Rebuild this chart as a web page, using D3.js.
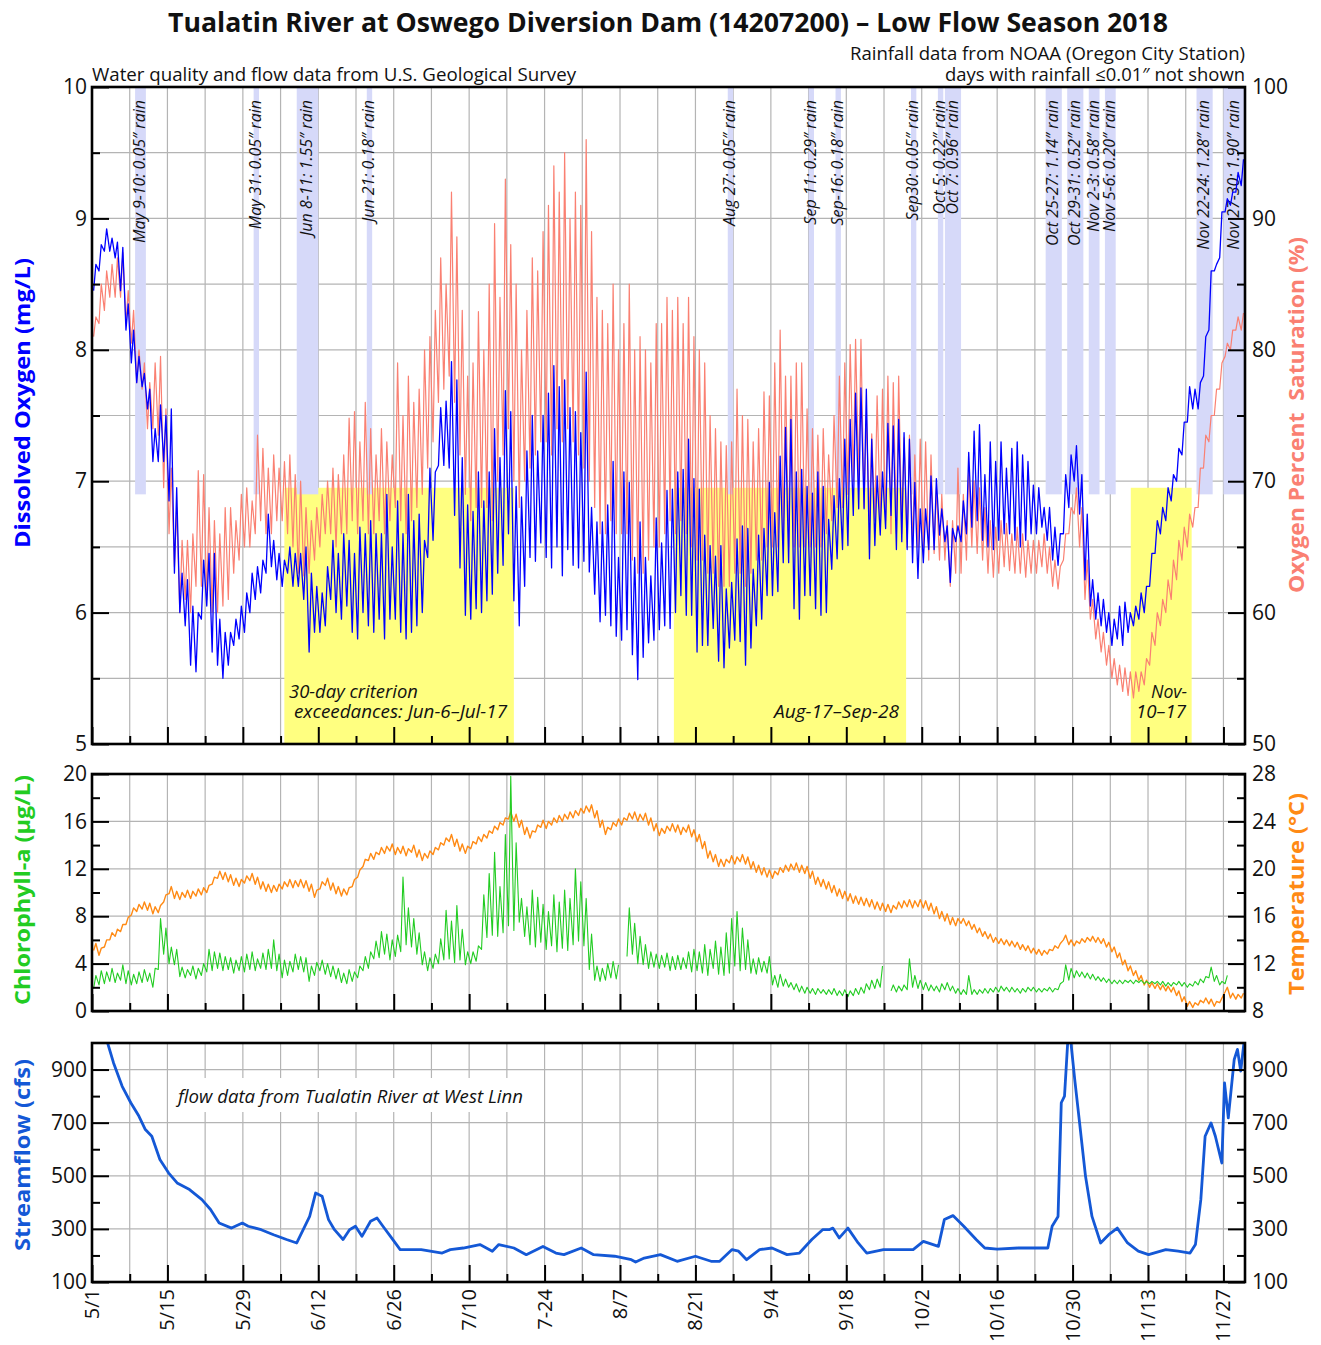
<!DOCTYPE html>
<html>
<head>
<meta charset="utf-8">
<script src="https://cdn.jsdelivr.net/npm/d3@7"></script>
<style>
  body { margin: 0; background: #fff; }
  svg text { font-family: 'Open Sans', 'Noto Sans', sans-serif; }
</style>
</head>
<body>
<svg width="1321" height="1345"></svg>
<script>
// day 0 = May 1 2018, one value per day (daily low / daily high)
const doLow = [
  8.45, 8.6, 8.75, 8.75, 8.7, 8.45, 8.15,
  7.9, 7.75, 7.72, 7.55, 7.15, 7.15, 7.15,
  6.85, 6.3, 6.0, 5.9, 5.6, 5.55, 5.95,
  6.05, 5.7, 5.6, 5.5, 5.6, 5.75, 5.8,
  5.85, 6.0, 6.1, 6.15, 6.3, 6.35, 6.25,
  6.2, 6.3, 6.2, 6.2, 6.1, 5.7, 5.85,
  5.85, 5.9, 6.1, 6.0, 5.95, 6.05, 5.85,
  5.8, 6.0, 5.9, 5.85, 5.95, 5.8, 5.95,
  5.95, 5.85, 5.8, 5.85, 5.9, 6.0, 6.42,
  6.55, 7.12, 7.12, 7.1, 6.74, 6.34, 5.98,
  5.95, 6.03, 6.0, 6.09, 6.14, 6.3, 6.36,
  6.6, 6.09, 5.9, 6.2, 6.42, 6.39, 6.53,
  6.42, 6.34, 6.5, 6.28, 6.48, 6.36, 6.34,
  6.39, 6.31, 6.14, 5.93, 5.98, 5.9, 5.82,
  5.79, 5.87, 5.68, 5.49, 5.66, 5.77, 5.79,
  5.87, 5.9, 5.88, 6.0, 6.13, 5.98, 5.98,
  5.7, 5.75, 5.75, 5.88, 5.63, 5.58, 5.73,
  5.79, 5.78, 5.6, 5.73, 5.9, 5.95, 6.13,
  6.13, 6.16, 6.38, 6.38, 6.03, 5.95, 6.13,
  6.13, 6.03, 5.98, 6.0, 6.33, 6.41, 6.48,
  6.51, 6.74, 6.79, 6.79, 6.41, 6.51, 6.59,
  6.64, 6.74, 6.48, 6.54, 6.48, 6.38, 6.26,
  6.38, 6.48, 6.48, 6.59, 6.54, 6.23, 6.54,
  6.54, 6.6, 6.65, 6.7, 6.55, 6.5, 6.48,
  6.55, 6.6, 6.6, 6.55, 6.5, 6.55, 6.6,
  6.6, 6.65, 6.55, 6.4, 6.36, 6.6, 6.8,
  7.0, 6.75, 6.25, 6.05, 5.95, 5.9, 5.85,
  5.75, 5.8, 5.75, 5.85, 5.9, 5.95, 6.0,
  6.2, 6.45, 6.6, 6.7, 6.85, 7.0, 7.2,
  7.45, 7.55, 7.55, 7.8, 8.15, 8.6, 8.7,
  9.05, 9.1, 9.2, 9.25
];
const doHigh = [
  8.65, 8.8, 8.92, 8.85, 8.82, 8.78, 8.35,
  8.15, 7.95, 7.82, 7.7, 7.4, 7.58, 7.5,
  7.55, 6.95, 6.3, 6.25, 6.05, 6.0, 6.4,
  6.45, 6.45, 5.95, 5.85, 5.85, 5.95, 6.05,
  6.15, 6.3, 6.35, 6.4, 6.75, 6.55, 6.45,
  6.4, 6.5, 6.45, 6.45, 6.5, 6.3, 6.2,
  6.15, 6.35, 6.55, 6.45, 6.6, 6.55, 6.45,
  6.65, 6.6, 6.7, 6.6, 6.6, 6.9, 6.5,
  6.85, 6.6, 6.9, 6.7, 6.75, 6.55, 7.1,
  7.07, 7.56, 7.61, 7.91, 7.77, 7.18, 6.82,
  6.77, 7.07, 6.85, 7.07, 7.4, 7.18, 7.69,
  7.53, 6.96, 6.88, 7.23, 7.5, 7.23, 7.5,
  7.67, 7.88, 7.72, 7.77, 7.56, 7.53, 7.37,
  7.83, 6.8, 6.69, 6.69, 6.82, 7.15, 6.42,
  7.07, 6.99, 6.42, 6.69, 6.42, 6.28, 6.72,
  6.53, 6.93, 6.94, 7.07, 7.09, 7.32, 7.02,
  6.94, 6.59, 6.51, 6.43, 6.51, 6.18, 6.23,
  6.56, 6.66, 6.64, 6.33, 6.59, 6.64, 6.99,
  6.76, 7.19, 7.41, 7.47, 7.07, 7.09, 6.96,
  6.91, 7.07, 6.96, 6.71, 6.89, 7.02, 7.32,
  7.47, 7.67, 7.71, 7.7, 7.32, 7.04, 7.07,
  7.44, 7.42, 7.47, 7.37, 7.32, 6.99, 6.79,
  6.79, 7.04, 7.02, 6.79, 6.66, 6.64, 6.66,
  6.85, 7.22, 7.38, 7.43, 7.05, 7.3, 7.15,
  7.3, 7.1, 7.25, 7.3, 7.2, 7.15, 6.97,
  6.95, 6.8, 6.8, 6.65, 6.6, 7.05, 7.2,
  7.27, 7.05, 6.75, 6.25, 6.15, 6.1, 6.0,
  5.95, 6.05, 6.08, 6.0, 6.05, 6.15, 6.2,
  6.45, 6.7, 6.8, 6.95, 7.05, 7.25, 7.45,
  7.72, 7.7, 7.75, 8.1, 8.6, 8.65, 9.05,
  9.15, 9.2, 9.35, 9.45
];
const satLow = [
  81, 82, 83, 84, 84, 84, 82,
  80.5, 77.5, 77, 74, 74, 73.5, 69.5,
  66, 63.5, 60, 61, 60, 62, 62,
  61, 60, 60, 60.5, 61, 63, 64,
  65, 65, 66, 67, 66, 66, 67,
  67, 66, 65, 63, 62.8, 63, 64,
  65, 66, 66, 65, 66, 66, 67,
  66, 67, 66, 66, 67, 66, 67,
  68, 67, 66, 67, 68, 69, 71,
  73, 76, 77, 78, 76, 72, 69,
  67, 68, 68, 68, 67, 70, 72,
  74, 70, 68, 70, 71, 72, 73,
  73, 72, 74, 73, 74, 73, 72,
  71, 70, 68, 66, 66, 67, 66,
  66, 66, 64, 63, 63, 64, 65,
  65, 66, 67, 66, 67, 66, 65,
  64, 64, 63, 63, 62, 62, 62,
  63, 63, 62, 63, 64, 64, 65,
  65, 65, 66, 65, 65, 65, 65,
  65, 65, 65, 66, 67, 68, 68,
  69, 70, 70, 68, 67, 67, 67,
  67, 66, 66, 66, 65, 65, 65,
  65, 64, 64.5, 64, 64, 62, 63,
  63, 64, 65, 64.5, 64, 63, 62.7,
  63, 63.5, 63.2, 63, 63, 62.7, 63,
  63, 63.5, 63, 62, 61.8, 64, 66,
  67.5, 65, 61, 59.5, 58, 57, 56,
  55, 54.5, 54, 53.7, 53.5, 54, 54.5,
  56, 57.5, 59, 60, 61, 62.5, 64,
  65, 66.5, 68, 71, 73, 75, 77,
  79.5, 80, 81.5, 81.5
];
const satHigh = [
  82.5, 85, 86, 86.5, 87, 87.4, 84.5,
  83, 80, 79, 77.5, 79, 79.5, 75.5,
  71, 68, 65.5, 65.5, 66, 70.8, 70.5,
  68, 67, 66, 68, 68, 67, 69,
  69.5, 68.5, 73.5, 72.5, 71, 72, 71,
  71.5, 72, 70.5, 70, 68, 67, 68,
  69, 70, 71, 70.5, 72, 74.8, 75.3,
  73, 76, 74, 72, 74, 73, 72,
  79, 75, 78, 76, 77, 80, 81,
  83, 87, 85, 92, 88.6, 83, 78,
  79, 82.9, 80, 85, 89.6, 84, 93,
  88, 85, 80, 83, 87, 86, 89,
  91, 94, 92, 95, 90, 92, 91,
  96, 89, 84, 83, 82, 85, 80,
  82, 85, 80, 81, 80, 79, 82,
  82, 84, 83, 84, 82, 84, 81,
  80, 79, 75, 74, 73, 72.7, 73,
  77, 75, 74.7, 73, 74, 76.8, 76.5,
  79, 81.5, 78, 78, 79, 79, 75.5,
  74, 73.5, 74, 72, 75, 78, 79,
  80.4, 80.8, 80.8, 75, 73.6, 76.5, 77,
  78, 77.5, 78, 73.3, 73.5, 72, 73.2,
  73, 72, 69.5, 69, 67, 67, 71,
  69, 71, 70, 69.5, 68, 67, 66.5,
  67, 66.8, 66, 66.5, 66, 65.5, 65.5,
  65.5, 66, 65, 64, 63.5, 66, 68,
  69.5, 68, 64, 61, 59.5, 58.5, 57.5,
  56.5, 56, 55.8, 55.5, 55.5, 55.5, 56.5,
  58.5, 60, 61, 62.5, 64, 65.5, 66.5,
  67.5, 68, 71, 73.5, 75, 77, 79,
  80.5, 81.5, 82.5, 82.8
];
const chlLow = [
  1.9, 2.2, 2.3, 2.5, 2.4, 2.6, 2.3,
  2.2, 2.3, 2.4, 2.5, 2.0, 3.5, 4.8,
  4.0, 3.9, 2.9, 2.8, 3.0, 2.7, 3.0,
  3.3, 3.4, 3.6, 3.4, 3.5, 3.2, 3.4,
  3.3, 3.5, 3.4, 3.6, 3.5, 3.6, 3.4,
  2.8, 3.0, 3.3, 3.5, 3.3, 2.5, 3.0,
  3.4, 3.1, 2.9, 2.7, 2.4, 2.3, 2.5,
  2.8, 3.4, 3.6, 4.4, 4.5, 4.8, 4.3,
  4.6, 5.0, 5.6, 5.4, 4.8, 3.9, 3.4,
  3.6, 4.0, 4.3, 4.4, 4.1, 4.3, 3.9,
  4.0, 4.2, 5.2, 6.2, 6.4, 6.3, 6.6,
  7.2, 6.8, 7.5, 6.3, 5.6, 5.4, 5.8,
  5.2, 5.5, 5.0, 5.3, 5.1, 5.6, 5.9,
  5.5, 3.5, 2.6, 2.5, 2.6, 2.8, 2.7,
  null, 4.6, 4.8, 4.0, 3.9, 3.6, 3.7,
  3.6, 3.7, 3.4, 3.5, 3.5, 3.6, 3.3,
  3.4, 3.2, 3.0, 3.6, 3.1, 3.0, 3.2,
  3.8, 3.4, 3.5, 3.2, 3.1, 3.3, 3.2,
  2.2, 2.0, 2.1, 2.0, 1.8, 1.6, 1.5,
  1.5, 1.4, 1.5, 1.4, 1.4, 1.3, 1.3,
  1.2, 1.3, 1.4, 1.5, 1.8, 1.9, 2.0,
  null, 1.7, 1.6, 1.7, 1.8, 2.0, 1.9,
  1.8, 1.7, 1.7, 1.6, 1.8, 1.7, 1.5,
  1.4, 1.4, 1.4, 1.4, 1.5, 1.5, 1.6,
  1.6, 1.7, 1.6, 1.6, 1.5, 1.6, 1.7,
  1.6, 1.6, 1.7, 1.6, 1.8, 2.5, 2.6,
  2.8, 2.9, 2.8, 2.7, 2.6, 2.5, 2.4,
  2.3, 2.3, 2.3, 2.4, 2.3, 2.4, 2.3,
  2.3, 2.3, 2.2, 2.1, 2.1, 2.2, 2.1,
  2.0, 2.1, 2.2, 2.4, 2.8, 2.5, 2.2,
  2.3, null, null, null
];
const chlHigh = [
  3.0, 3.4, 3.3, 3.6, 3.2, 3.9, 3.4,
  3.1, 3.3, 3.5, 3.2, 3.6, 7.8, 7.0,
  5.4, 5.2, 3.7, 3.5, 3.8, 3.6, 4.0,
  5.2, 5.0, 4.9, 4.6, 4.5, 4.3, 4.6,
  4.8, 5.0, 4.4, 4.9, 5.2, 6.0, 4.8,
  4.3, 4.2, 4.8, 4.6, 4.5, 3.8, 4.1,
  4.3, 4.0, 3.8, 3.6, 3.2, 3.5, 3.3,
  3.8, 4.6, 5.0, 5.9, 6.7, 6.5, 6.0,
  6.4, 11.3, 8.7, 7.8, 6.6, 5.0, 4.5,
  4.8, 6.1, 8.5, 7.6, 8.9, 6.9, 5.0,
  5.0, 5.5, 9.8, 11.6, 13.4, 10.5, 14.9,
  19.8, 14.2, 9.5, 8.8, 10.2, 9.6, 9.0,
  8.4, 9.8, 9.2, 10.2, 9.5, 12.0, 10.9,
  9.5, 6.5, 3.8, 3.6, 4.0, 4.2, 3.9,
  null, 8.7, 7.4, 6.3, 5.6, 5.0, 4.8,
  4.7, 4.9, 4.6, 4.7, 4.5, 5.0, 5.2,
  5.0, 5.6, 5.2, 5.9, 5.4, 6.6, 7.8,
  8.4, 7.0, 6.0, 4.4, 4.5, 4.2, 4.6,
  3.0, 3.1, 2.7, 2.4, 2.3, 2.1, 2.0,
  1.9, 1.9, 1.8, 1.8, 1.9, 1.7, 1.8,
  1.7, 1.9, 2.0, 2.3, 2.6, 2.7, 3.8,
  null, 2.2, 2.1, 2.2, 4.4, 3.0, 2.6,
  2.4, 2.2, 2.1, 2.3, 2.4, 2.1, 1.9,
  1.8, 3.0, 1.8, 1.8, 1.9, 1.9, 2.0,
  2.1, 2.0, 2.0, 1.9, 1.9, 2.0, 2.0,
  1.9, 1.9, 2.0, 1.9, 2.3, 3.9, 3.6,
  3.4, 3.3, 3.2, 3.1, 2.9, 2.8, 2.7,
  2.6, 2.6, 2.6, 2.6, 2.6, 2.6, 2.5,
  2.5, 2.5, 2.5, 2.4, 2.4, 2.5, 2.4,
  2.3, 2.5, 2.7, 2.9, 3.7, 3.0, 2.5,
  3.0, null, null, null
];
const tempLow = [
  13.1, 12.7, 13.4, 14.0, 14.3, 14.7, 15.3,
  16.1, 16.4, 16.6, 16.5, 16.2, 16.3, 17.2,
  17.9, 17.5, 17.4, 17.6, 17.5, 17.7, 17.8,
  18.0, 18.7, 19.2, 19.1, 18.9, 18.6, 18.5,
  18.8, 19.0, 18.7, 18.3, 18.1, 18.0, 18.1,
  18.3, 18.5, 18.4, 18.5, 18.4, 18.1, 17.6,
  18.3, 18.6, 18.2, 17.9, 17.7, 17.8, 18.5,
  19.3, 20.2, 20.7, 20.8, 21.2, 21.3, 21.5,
  21.2, 21.3, 21.1, 21.4, 21.0, 20.7, 20.9,
  21.2, 21.6, 22.0, 22.3, 21.9, 21.5, 21.3,
  21.7, 22.1, 22.3, 22.6, 23.0, 23.3, 23.7,
  24.2, 24.0, 23.5, 22.9, 22.6, 23.1, 23.5,
  23.4, 23.7, 23.9, 24.0, 24.2, 24.3, 24.5,
  24.7, 24.8, 24.3, 23.5, 22.9, 23.3, 23.6,
  23.7, 24.1, 24.2, 24.0, 24.1, 23.7, 23.2,
  22.8, 23.0, 23.2, 23.1, 22.9, 23.1, 22.7,
  22.3, 21.7, 20.9, 20.6, 20.2, 20.2, 20.5,
  20.4, 20.6, 20.4, 20.0, 19.7, 19.5, 19.3,
  19.2, 19.5, 19.7, 19.8, 19.9, 19.7, 19.6,
  19.2, 18.7, 18.5, 18.3, 18.0, 17.7, 17.5,
  17.3, 17.1, 17.0, 16.9, 16.8, 16.6, 16.5,
  16.4, 16.3, 16.6, 16.7, 16.8, 16.7, 16.8,
  16.7, 16.5, 16.2, 15.8, 15.6, 15.3, 15.2,
  15.4, 15.2, 14.9, 14.6, 14.3, 14.1, 13.8,
  13.7, 13.6, 13.5, 13.4, 13.2, 13.1, 12.9,
  12.8, 12.7, 12.8, 13.1, 13.3, 14.0, 13.6,
  13.5, 13.7, 13.8, 13.9, 13.8, 13.7, 13.4,
  13.0, 12.5, 11.9, 11.4, 11.0, 10.6, 10.2,
  10.0, 9.9, 9.8, 9.7, 9.6, 9.3, 8.8,
  8.4, 8.3, 8.5, 8.7, 8.6, 8.4, 8.7,
  9.6, 9.1, 9.0, 9.1
];
const tempHigh = [
  13.7, 13.3, 14.0, 14.6, 14.9, 15.3, 15.9,
  16.7, 17.0, 17.2, 17.1, 16.8, 16.9, 17.8,
  18.5, 18.1, 18.0, 18.2, 18.1, 18.3, 18.4,
  18.6, 19.3, 19.8, 19.7, 19.5, 19.2, 19.1,
  19.4, 19.6, 19.3, 18.9, 18.7, 18.6, 18.7,
  18.9, 19.1, 19.0, 19.1, 19.0, 18.7, 18.2,
  18.9, 19.2, 18.8, 18.5, 18.3, 18.4, 19.1,
  19.9, 20.8, 21.3, 21.4, 21.8, 21.9, 22.1,
  21.8, 21.9, 21.7, 22.0, 21.6, 21.3, 21.5,
  21.8, 22.2, 22.6, 22.9, 22.5, 22.1, 21.9,
  22.3, 22.7, 22.9, 23.2, 23.6, 23.9, 24.3,
  24.8, 24.6, 24.1, 23.5, 23.2, 23.7, 24.1,
  24.0, 24.3, 24.5, 24.6, 24.8, 24.9, 25.1,
  25.3, 25.4, 24.9, 24.1, 23.5, 23.9, 24.2,
  24.3, 24.7, 24.8, 24.6, 24.7, 24.3, 23.8,
  23.4, 23.6, 23.8, 23.7, 23.5, 23.7, 23.3,
  22.9, 22.3, 21.5, 21.2, 20.8, 20.8, 21.1,
  21.0, 21.2, 21.0, 20.6, 20.3, 20.1, 19.9,
  19.8, 20.1, 20.3, 20.4, 20.5, 20.3, 20.2,
  19.8, 19.3, 19.1, 18.9, 18.6, 18.3, 18.1,
  17.9, 17.7, 17.6, 17.5, 17.4, 17.2, 17.1,
  17.0, 16.9, 17.2, 17.3, 17.4, 17.3, 17.4,
  17.3, 17.1, 16.8, 16.4, 16.2, 15.9, 15.8,
  15.8, 15.6, 15.3, 15.0, 14.7, 14.5, 14.2,
  14.1, 14.0, 13.9, 13.8, 13.6, 13.5, 13.3,
  13.2, 13.1, 13.2, 13.5, 13.7, 14.4, 14.0,
  13.9, 14.1, 14.2, 14.3, 14.2, 14.1, 13.8,
  13.4, 12.9, 12.3, 11.8, 11.4, 11.0, 10.6,
  10.4, 10.3, 10.2, 10.1, 10.0, 9.7, 9.2,
  8.8, 8.7, 8.9, 9.1, 9.0, 8.8, 9.1,
  10.0, 9.5, 9.4, 9.5
];
// streamflow readings (day offset, cfs)
const flowDay = [0, 1, 2, 2.9, 4, 5.6, 7.2, 8.7, 9.9, 11.1,
  12.6, 14.2, 15.8, 18.1, 20.4, 22, 23.6, 25.9, 27.9, 29,
  31.4, 33.7, 36.1, 38, 39.2, 40.4, 41.5, 42.7, 43.9, 45,
  46.6, 47.8, 48.9, 50.1, 51.7, 52.9, 54, 55.6, 57.2, 61.1,
  65, 66.5, 68.9, 72, 74.3, 75.5, 78.3, 80.6, 83.7, 86.1,
  87.6, 90.8, 93.1, 97, 100.1, 100.9, 102.5, 105.5, 108.6, 112,
  114.9, 116.5, 118.8, 120, 121.5, 123.9, 126.2, 129, 131.3, 133.6,
  135.6, 136.8, 137.5, 138.7, 140.3, 142.2, 143.8, 146.9, 150, 152.4,
  154.3, 157.1, 158.2, 159.8, 161.8, 164.1, 165.7, 168, 171.9, 175.8,
  177.4, 178.2, 179.3, 179.9, 180.5, 181.1, 181.7, 182.4, 183.3, 184.4,
  185.6, 187.2, 188.7, 190.3, 192.2, 194.2, 196.1, 199.3, 201.6, 203.8,
  204.8, 205.8, 206.6, 207.7, 208.5, 209.7, 210.2, 210.9, 212, 212.6,
  213.2, 213.8, 214];
const flowCfs = [1150, 1090, 1030, 1000, 925, 837, 775, 725, 674, 649,
  561, 511, 473, 448, 410, 373, 322, 303, 322, 310,
  297, 278, 260, 247, 297, 347, 435, 423, 335, 297,
  260, 297, 310, 272, 329, 341, 310, 266, 222, 222,
  209, 222, 228, 241, 216, 241, 228, 203, 234, 209,
  203, 228, 203, 197, 184, 175, 190, 203, 178, 197,
  178, 178, 222, 216, 184, 222, 228, 203, 209, 260,
  297, 297, 303, 266, 303, 247, 209, 222, 222, 222,
  253, 234, 335, 350, 310, 260, 228, 224, 228, 228,
  228, 310, 347, 775, 800, 1005, 1000, 862, 699, 498,
  347, 247, 278, 303, 247, 216, 203, 222, 216, 209,
  241, 410, 649, 699, 649, 548, 850, 718, 938, 976,
  894, 1000, 1010];

// rain days (day offsets) and labels
const rainStart = [8, 30, 38, 51, 118, 133, 138, 152, 157, 158.3, 177, 181, 185, 188, 205, 210];
const rainEnd   = [10, 31, 42, 52, 119, 134, 139, 153, 158, 161.3, 180, 184, 187, 190, 208, 214];
const rainText = ['May 9-10: 0.05\u2033 rain', 'May 31: 0.05\u2033 rain', 'Jun 8-11: 1.55\u2033 rain',
  'Jun 21: 0.18\u2033 rain', 'Aug 27: 0.05\u2033 rain', 'Sep 11: 0.29\u2033 rain', 'Sep-16: 0.18\u2033 rain',
  'Sep30: 0.05\u2033 rain', 'Oct 5: 0.22\u2033 rain', 'Oct 7: 0.96\u2033 rain', 'Oct 25-27: 1.14\u2033 rain',
  'Oct 29-31: 0.52\u2033 rain', 'Nov 2-3: 0.58\u2033 rain', 'Nov 5-6: 0.20\u2033 rain',
  'Nov 22-24: 1.28\u2033 rain', 'Nov 27-30: 1.90\u2033 rain'];
// 30-day criterion exceedance periods
const exceedStart = [35.7, 108, 192.8];
const exceedEnd = [78.3, 151.1, 204.1];
const dateLabels = ['5/1', '5/15', '5/29', '6/12', '6/26', '7/10', '7-24', '8/7',
  '8/21', '9/4', '9/18', '10/2', '10/16', '10/30', '11/13', '11/27'];

const svg = d3.select('svg');

const x = d3.scaleLinear().domain([0, 214]).range([92, 1245]);
const yDO = d3.scaleLinear().domain([5, 10]).range([744, 87]);
const ySat = d3.scaleLinear().domain([50, 100]).range([744, 87]);
const yChl = d3.scaleLinear().domain([0, 20]).range([1011, 774]);
const yTemp = d3.scaleLinear().domain([8, 28]).range([1011, 774]);
const yFlow = d3.scaleLinear().domain([100, 1000]).range([1282, 1043]);

const weeks = d3.range(0, 214, 7);
const majorDays = weeks.filter(d => d % 14 === 0);
const minorDays = weeks.filter(d => d % 14 !== 0);
const gridCol = '#b4b4b4';

// clip paths
const defs = svg.append('defs');
[['clipTop', 87, 744], ['clipMid', 774, 1011], ['clipBot', 1043, 1282]].forEach(c => {
  defs.append('clipPath').attr('id', c[0]).append('rect')
    .attr('x', 92).attr('y', c[1]).attr('width', 1245 - 92).attr('height', c[2] - c[1]);
});

function grid(top, bottom, yScale, vals) {
  const g = svg.append('g');
  g.selectAll('line.v').data(weeks.filter(d => d > 0)).enter().append('line').attr('class', 'v')
    .attr('x1', d => x(d)).attr('x2', d => x(d)).attr('y1', top).attr('y2', bottom)
    .attr('stroke', gridCol).attr('stroke-width', 1.2);
  g.selectAll('line.h').data(vals).enter().append('line').attr('class', 'h')
    .attr('x1', 92).attr('x2', 1245).attr('y1', d => yScale(d)).attr('y2', d => yScale(d))
    .attr('stroke', gridCol).attr('stroke-width', 1.2);
}

function zigzag(low, high) {
  const pts = [];
  low.forEach((v, i) => {
    pts.push([i + 0.3, v]);
    pts.push([i + 0.72, high[i]]);
  });
  return pts;
}

function drawLine(pts, yScale, color, width, clip) {
  const line = d3.line().defined(d => d[1] != null).x(d => x(d[0])).y(d => yScale(d[1]));
  svg.append('path').datum(pts).attr('clip-path', `url(#${clip})`)
    .attr('fill', 'none').attr('stroke', color).attr('stroke-width', width)
    .attr('stroke-linejoin', 'round').attr('d', line);
}

function styleAxis(g) {
  g.attr('font-size', 21).attr('font-family', null);
  g.select('.domain').remove();
  g.selectAll('.tick line').attr('stroke', '#000').attr('stroke-width', 2);
  g.selectAll('.tick text').attr('fill', '#111');
}

function axes(top, bottom, yL, yR, lMajor, lMinor, rMajor, rMinor) {
  const gl = svg.append('g').attr('transform', 'translate(92,0)');
  gl.append('g').call(d3.axisLeft(yL).tickValues(lMajor).tickSize(-17).tickPadding(5).tickFormat(d3.format('d'))).call(styleAxis);
  gl.append('g').call(d3.axisLeft(yL).tickValues(lMinor).tickSize(-8).tickFormat('')).call(styleAxis);
  const gr = svg.append('g').attr('transform', 'translate(1245,0)');
  gr.append('g').call(d3.axisRight(yR).tickValues(rMajor).tickSize(-17).tickPadding(7).tickFormat(d3.format('d'))).call(styleAxis);
  gr.append('g').call(d3.axisRight(yR).tickValues(rMinor).tickSize(-8).tickFormat('')).call(styleAxis);
  const gb = svg.append('g').attr('transform', `translate(0,${bottom})`);
  gb.append('g').call(d3.axisBottom(x).tickValues(majorDays).tickSize(-17).tickFormat('')).call(styleAxis);
  gb.append('g').call(d3.axisBottom(x).tickValues(minorDays).tickSize(-8).tickFormat('')).call(styleAxis);
  svg.append('rect').attr('x', 92).attr('y', top).attr('width', 1245 - 92).attr('height', bottom - top)
    .attr('fill', 'none').attr('stroke', '#000').attr('stroke-width', 2.6);
}

function rotTitle(text, xPos, yPos, color, len) {
  svg.append('text').attr('transform', `translate(${xPos},${yPos}) rotate(-90)`)
    .attr('text-anchor', 'middle').attr('font-weight', 'bold').attr('font-size', 22)
    .attr('fill', color).attr('textLength', len).attr('lengthAdjust', 'spacingAndGlyphs')
    .style('white-space', 'pre').text(text);
}

// ---------- top panel: dissolved oxygen ----------
grid(87, 744, yDO, d3.range(5.5, 10, 0.5));

svg.append('g').selectAll('rect').data(exceedStart).enter().append('rect')
  .attr('x', (d, i) => x(d)).attr('width', (d, i) => x(exceedEnd[i]) - x(d))
  .attr('y', yDO(6.95)).attr('height', yDO(5) - yDO(6.95)).attr('fill', '#ffff80');

svg.append('g').selectAll('rect').data(rainStart).enter().append('rect')
  .attr('x', (d, i) => x(d)).attr('width', (d, i) => x(rainEnd[i]) - x(d))
  .attr('y', 87).attr('height', yDO(6.9) - 87).attr('fill', '#d6d9f9');

svg.append('g').selectAll('text').data(rainText).enter().append('text')
  .attr('transform', (d, i) => `translate(${(x(rainStart[i]) + x(rainEnd[i])) / 2 - 1},100) rotate(-90)`)
  .attr('text-anchor', 'end').attr('dy', '0.35em').attr('font-size', 16).attr('font-style', 'italic')
  .attr('fill', '#111').text(d => d);

drawLine(zigzag(satLow, satHigh), ySat, '#fa8072', 1.2, 'clipTop');
drawLine(zigzag(doLow, doHigh), yDO, '#0000ff', 1.3, 'clipTop');

const exLabels = [
  ['30-day criterion', 289, 698, 'start', 129],
  ['exceedances: Jun-6\u2013Jul-17', 294, 718, 'start', 213],
  ['Aug-17\u2013Sep-28', 899, 718, 'end', 125],
  ['Nov-', 1187, 698, 'end', 36],
  ['10\u201317', 1186, 718, 'end', 50]
];
svg.append('g').selectAll('text').data(exLabels).enter().append('text')
  .attr('x', d => d[1]).attr('y', d => d[2]).attr('text-anchor', d => d[3])
  .attr('font-size', 17.5).attr('font-style', 'italic').attr('fill', '#111')
  .attr('textLength', d => d[4]).attr('lengthAdjust', 'spacingAndGlyphs').text(d => d[0]);

axes(87, 744, yDO, ySat, d3.range(5, 10.5, 1), d3.range(5.5, 10, 1), d3.range(50, 101, 10), d3.range(55, 100, 10));

// ---------- middle panel: chlorophyll & temperature ----------
grid(774, 1011, yChl, [4, 8, 12, 16]);
drawLine(zigzag(tempLow, tempHigh), yTemp, '#ff8a14', 1.4, 'clipMid');
drawLine(zigzag(chlLow, chlHigh), yChl, '#22cc22', 1.1, 'clipMid');
axes(774, 1011, yChl, yTemp, [0, 4, 8, 12, 16, 20], [2, 6, 10, 14, 18], [8, 12, 16, 20, 24, 28], [10, 14, 18, 22, 26]);

// ---------- bottom panel: streamflow ----------
grid(1043, 1282, yFlow, [300, 500, 700, 900]);
svg.append('rect').attr('x', 177).attr('y', 1078).attr('width', 347).attr('height', 34).attr('fill', '#fff');
svg.append('text').attr('x', 178).attr('y', 1103).attr('font-size', 18).attr('font-style', 'italic')
  .attr('fill', '#111').attr('textLength', 345).attr('lengthAdjust', 'spacingAndGlyphs')
  .text('flow data from Tualatin River at West Linn');
drawLine(d3.zip(flowDay, flowCfs), yFlow, '#1458d6', 2.8, 'clipBot');
axes(1043, 1282, yFlow, yFlow, [100, 300, 500, 700, 900], [200, 400, 600, 800], [100, 300, 500, 700, 900], [200, 400, 600, 800]);

// date labels
svg.append('g').selectAll('text').data(dateLabels).enter().append('text')
  .attr('transform', (d, i) => `translate(${x(majorDays[i])},1289) rotate(-90)`)
  .attr('text-anchor', 'end').attr('dy', '0.35em').attr('font-size', 20).attr('fill', '#111')
  .text(d => d);

// ---------- titles ----------
svg.append('text').attr('x', 668).attr('y', 32).attr('text-anchor', 'middle')
  .attr('font-size', 26).attr('font-weight', 'bold').attr('fill', '#111')
  .attr('textLength', 1000).attr('lengthAdjust', 'spacingAndGlyphs')
  .text('Tualatin River at Oswego Diversion Dam (14207200) \u2013 Low Flow Season 2018');
svg.append('text').attr('x', 92).attr('y', 81).attr('font-size', 18).attr('fill', '#111')
  .attr('textLength', 484).attr('lengthAdjust', 'spacingAndGlyphs')
  .text('Water quality and flow data from U.S. Geological Survey');
svg.append('text').attr('x', 1245).attr('y', 60).attr('text-anchor', 'end').attr('font-size', 18).attr('fill', '#111')
  .attr('textLength', 395).attr('lengthAdjust', 'spacingAndGlyphs')
  .text('Rainfall data from NOAA (Oregon City Station)');
svg.append('text').attr('x', 1245).attr('y', 81).attr('text-anchor', 'end').attr('font-size', 18).attr('fill', '#111')
  .attr('textLength', 300).attr('lengthAdjust', 'spacingAndGlyphs')
  .text('days with rainfall \u22640.01\u2033 not shown');

rotTitle('Dissolved Oxygen (mg/L)', 30, 403, '#0000ff', 290);
rotTitle('Oxygen Percent  Saturation (%)', 1304, 415, '#fa8072', 356);
rotTitle('Chlorophyll-a (\u00b5g/L)', 30, 890, '#22cc22', 230);
rotTitle('Temperature (\u00b0C)', 1304, 894, '#ff8a14', 202);
rotTitle('Streamflow (cfs)', 30, 1155, '#1458d6', 192);
</script>
</body>
</html>
